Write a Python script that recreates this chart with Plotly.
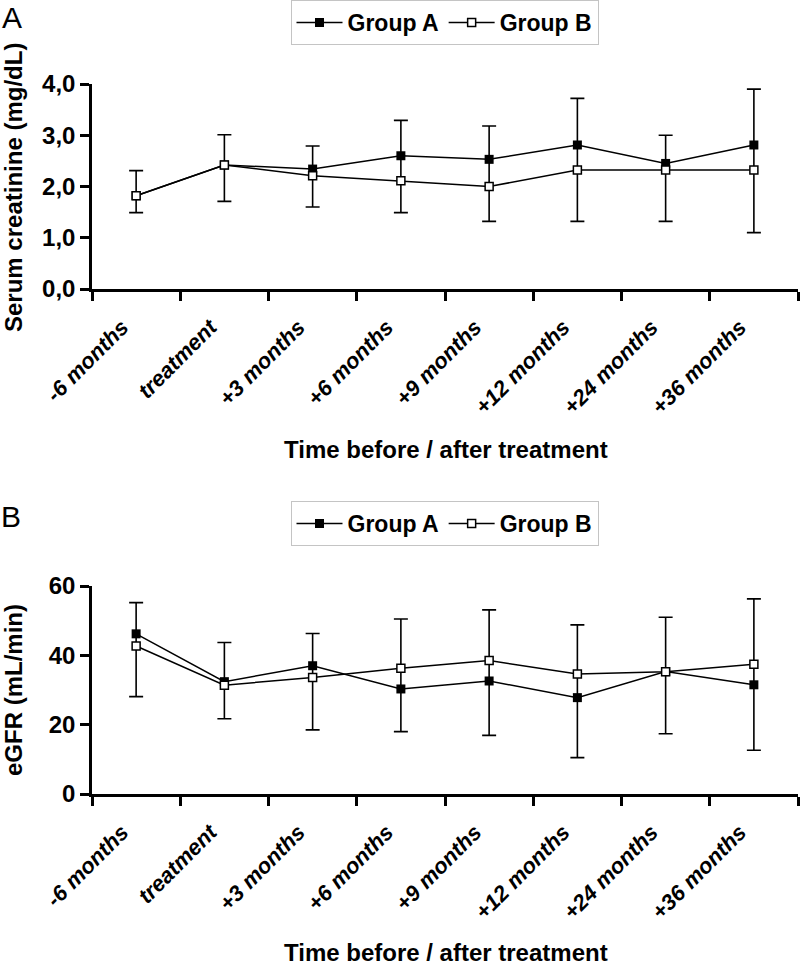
import plotly.graph_objects as go

# ---------------- data ----------------
categories = ["-6 months", "treatment", "+3 months", "+6 months",
              "+9 months", "+12 months", "+24 months", "+36 months"]

# Panel A: serum creatinine (mg/dL)
crea_group_a = [1.82, 2.42, 2.34, 2.60, 2.53, 2.81, 2.45, 2.81]
crea_group_b = [1.82, 2.42, 2.21, 2.11, 2.00, 2.32, 2.32, 2.32]
crea_upper = [2.31, 3.01, 2.79, 3.29, 3.18, 3.72, 3.00, 3.90]   # Group A + SD
crea_lower = [1.49, 1.71, 1.60, 1.49, 1.32, 1.32, 1.32, 1.10]   # Group B - SD

# Panel B: eGFR (mL/min)
egfr_group_a = [46.2, 32.4, 37.0, 30.3, 32.6, 27.8, 35.3, 31.5]
egfr_group_b = [42.7, 31.4, 33.6, 36.3, 38.5, 34.6, 35.3, 37.4]
egfr_upper = [55.2, 43.7, 46.3, 50.5, 53.1, 48.8, 51.0, 56.3]
egfr_lower = [28.1, 21.7, 18.5, 18.0, 16.9, 10.5, 17.4, 12.6]

y_ticks_a = [0, 1, 2, 3, 4]
y_ticks_b = [0, 20, 40, 60]

# ---------------- styling ----------------
FONT = "Liberation Sans, Arial, sans-serif"
W, H = 800, 968


def px_(x):
    return x / W


def py(y):
    return 1 - y / H


fig = go.Figure()


def add_panel(ya, xa, a_vals, b_vals, upper, lower, legend):
    # error bars (drawn first so they are below the markers)
    fig.add_trace(go.Scatter(
        x=categories, y=a_vals, mode="markers",
        marker=dict(size=1, color="rgba(0,0,0,0)"),
        error_y=dict(type="data", symmetric=False,
                     array=[u - a for u, a in zip(upper, a_vals)],
                     arrayminus=[a - l for a, l in zip(a_vals, lower)],
                     color="black", thickness=1.6, width=7),
        xaxis=xa, yaxis=ya, showlegend=False, hoverinfo="skip"))
    fig.add_trace(go.Scatter(
        x=categories, y=a_vals, mode="lines+markers", name="Group A",
        line=dict(color="black", width=1.5),
        marker=dict(symbol="square", size=9, color="black",
                    line=dict(width=0)),
        xaxis=xa, yaxis=ya, legend=legend))
    fig.add_trace(go.Scatter(
        x=categories, y=b_vals, mode="lines+markers", name="Group B",
        line=dict(color="black", width=1.5),
        marker=dict(symbol="square", size=8, color="white",
                    line=dict(color="black", width=1.5)),
        xaxis=xa, yaxis=ya, legend=legend))


add_panel("y", "x", crea_group_a, crea_group_b, crea_upper, crea_lower, "legend")
add_panel("y2", "x2", egfr_group_a, egfr_group_b, egfr_upper, egfr_lower, "legend2")

x_dom = [px_(92), px_(798)]
xaxis_common = dict(
    type="category", categoryorder="array", categoryarray=categories,
    range=[-0.5, 7.5], tickson="boundaries", ticks="outside",
    ticklen=9, tickwidth=2.5, tickcolor="black",
    showline=True, linewidth=2.5, linecolor="black",
    showgrid=False, zeroline=False, tickangle=-45,
    ticklabelstandoff=14, ticklabelshift=-14,
    tickfont=dict(family=FONT, size=22, color="black",
                  weight="bold", style="italic"),
    domain=x_dom, fixedrange=True)
yaxis_common = dict(
    ticks="outside", ticklen=9, tickwidth=2.5, tickcolor="black",
    showline=True, linewidth=2.5, linecolor="black",
    showgrid=False, zeroline=False, ticklabelstandoff=0,
    tickfont=dict(family=FONT, size=24, color="black", weight="bold"),
    fixedrange=True)

legend_common = dict(
    orientation="h", x=px_(444.5), xanchor="center", yanchor="top",
    bordercolor="#c4c4c4", borderwidth=1, bgcolor="white",
    font=dict(family=FONT, size=23, color="black", weight="bold"),
    itemwidth=46, tracegroupgap=0)

fig.update_layout(
    width=W, height=H,
    margin=dict(l=0, r=0, t=0, b=0, autoexpand=False),
    paper_bgcolor="white", plot_bgcolor="white",
    separators=",.",
    xaxis=dict(**xaxis_common, anchor="y"),
    xaxis2=dict(**xaxis_common, anchor="y2"),
    yaxis=dict(**yaxis_common, domain=[py(289), py(84)], range=[0, 4],
               tickvals=y_ticks_a, tickformat=".1f", anchor="x"),
    yaxis2=dict(**yaxis_common, domain=[py(794), py(586)], range=[0, 60],
                tickvals=y_ticks_b, anchor="x2"),
    legend=dict(**legend_common, y=py(0)),
    legend2=dict(**legend_common, y=py(501)),
)

ann_font_title = dict(family=FONT, size=24, color="black", weight="bold")
annotations = [
    dict(text="A", x=px_(12), y=py(17), xref="paper", yref="paper",
         xanchor="center", yanchor="middle", showarrow=False,
         font=dict(family=FONT, size=30, color="black")),
    dict(text="B", x=px_(11), y=py(516), xref="paper", yref="paper",
         xanchor="center", yanchor="middle", showarrow=False,
         font=dict(family=FONT, size=30, color="black")),
    dict(text="Serum creatinine (mg/dL)", x=px_(13), y=py(188), textangle=-90,
         xref="paper", yref="paper", xanchor="center", yanchor="middle",
         showarrow=False, font=ann_font_title),
    dict(text="eGFR (mL/min)", x=px_(13), y=py(690), textangle=-90,
         xref="paper", yref="paper", xanchor="center", yanchor="middle",
         showarrow=False, font=ann_font_title),
    dict(text="Time before / after treatment", x=px_(446), y=py(450),
         xref="paper", yref="paper", xanchor="center", yanchor="middle",
         showarrow=False, font=ann_font_title),
    dict(text="Time before / after treatment", x=px_(446), y=py(968),
         xref="paper", yref="paper", xanchor="center", yanchor="bottom",
         showarrow=False, font=ann_font_title),
]
fig.update_layout(annotations=annotations)

# remove the browser's default 8px body margin so the figure sits at the page origin
fig.write_html("out.html",
               config={"displayModeBar": False},
               post_script="document.body.style.margin='0';"
                           "document.body.style.padding='0';")
